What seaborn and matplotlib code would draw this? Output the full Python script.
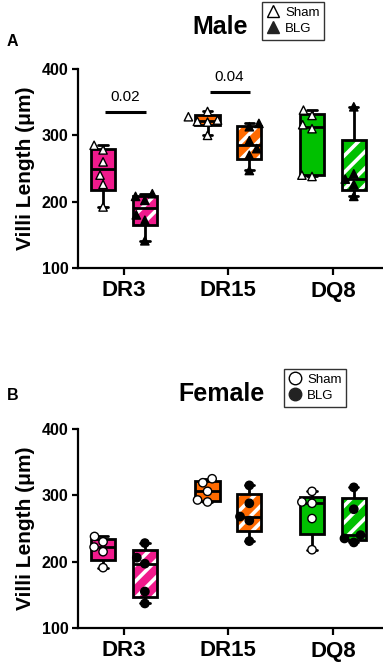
import numpy as np
import pandas as pd
import matplotlib
matplotlib.use("Agg")
import matplotlib.pyplot as plt
import matplotlib.cbook
import matplotlib.colors as mcolors
from matplotlib.lines import Line2D
import seaborn as sns

# ---------------- data ----------------
genotypes = ["DR3", "DR15", "DQ8"]
treatments = ["Sham", "BLG"]
genotype_colors = ["#F01A8C", "#FF6A00", "#00C000"]
yticks = [100, 200, 300, 400]

# Male (panel A)
male_dr3_sham = [192, 226, 240, 260, 278, 285]
male_dr3_blg = [141, 172, 180, 202, 208, 212]
male_dr15_sham = [300, 320, 321, 323, 328, 336]
male_dr15_blg = [247, 270, 280, 292, 313, 318]
male_dq8_sham = [238, 240, 310, 316, 330, 338]
male_dq8_blg = [208, 226, 234, 242, 343]

# Female (panel B)
female_dr3_sham = [191, 215, 222, 230, 238]
female_dr3_blg = [137, 155, 197, 206, 228]
female_dr15_sham = [290, 293, 306, 319, 325]
female_dr15_blg = [231, 262, 268, 288, 315]
female_dq8_sham = [218, 265, 288, 290, 306]
female_dq8_blg = [229, 235, 240, 279, 312]

# significance annotations (panel A): genotype, p-label, bar height
sig_genotypes = ["DR3", "DR15"]
sig_labels = ["0.02", "0.04"]
sig_heights = [335, 365]


def make_df(groups):
    rows = []
    for (g, t), vals in groups.items():
        for v in vals:
            rows.append({"genotype": g, "treatment": t, "length": v})
    return pd.DataFrame(rows)


male_df = make_df({
    ("DR3", "Sham"): male_dr3_sham, ("DR3", "BLG"): male_dr3_blg,
    ("DR15", "Sham"): male_dr15_sham, ("DR15", "BLG"): male_dr15_blg,
    ("DQ8", "Sham"): male_dq8_sham, ("DQ8", "BLG"): male_dq8_blg,
})
female_df = make_df({
    ("DR3", "Sham"): female_dr3_sham, ("DR3", "BLG"): female_dr3_blg,
    ("DR15", "Sham"): female_dr15_sham, ("DR15", "BLG"): female_dr15_blg,
    ("DQ8", "Sham"): female_dq8_sham, ("DQ8", "BLG"): female_dq8_blg,
})

# Prism-style quartiles (n+1 method) for the boxes
_orig_stats = matplotlib.cbook.boxplot_stats


def prism_stats(X, *args, **kwargs):
    out = _orig_stats(X, *args, **kwargs)
    try:
        arr = np.asarray(X, dtype=float)
        groups = [arr] if arr.ndim == 1 else list(arr)
    except ValueError:
        groups = [np.asarray(x, dtype=float) for x in X]
    if len(groups) == len(out):
        for st, vals in zip(out, groups):
            if len(vals):
                q1, med, q3 = np.percentile(vals, [25, 50, 75], method="weibull")
                st["q1"], st["med"], st["q3"] = q1, med, q3
    return out


matplotlib.cbook.boxplot_stats = prism_stats

# ---------------- style ----------------
sns.set_theme(style="ticks")
plt.rcParams["font.family"] = ["Liberation Sans", "DejaVu Sans"]
plt.rcParams["hatch.linewidth"] = 2.6
plt.rcParams["text.color"] = "black"
plt.rcParams["axes.labelcolor"] = "black"
plt.rcParams["xtick.color"] = "black"
plt.rcParams["ytick.color"] = "black"
plt.rcParams["axes.edgecolor"] = "black"

fig = plt.figure(figsize=(3.83, 6.62), dpi=100)
axA = fig.add_axes([78 / 383, 1 - 268 / 662, 304 / 383, 199 / 662])
axB = fig.add_axes([78 / 383, 1 - 628 / 662, 304 / 383, 199 / 662])


def draw_panel(ax, df, marker):
    sns.boxplot(data=df, x="genotype", y="length", hue="treatment",
                order=genotypes, hue_order=treatments, whis=(0, 100),
                width=0.8, gap=0.42, dodge=True, linewidth=2.0,
                linecolor="black", palette=["white", "white"],
                showfliers=False, legend=False, ax=ax, capwidths=0.09)
    for patch in ax.patches:
        verts = patch.get_path().vertices
        cx = (verts[:, 0].min() + verts[:, 0].max()) / 2
        gi = int(round(cx))
        patch.set_facecolor(genotype_colors[gi])
        if cx > gi:
            patch.set_hatch("//")
            patch._hatch_color = mcolors.to_rgba("white")
    sns.swarmplot(data=df, x="genotype", y="length", hue="treatment",
                  order=genotypes, hue_order=treatments, dodge=True,
                  palette={"Sham": "white", "BLG": "black"}, marker=marker,
                  size=6, edgecolor="black", linewidth=1.0, legend=False,
                  ax=ax, zorder=4)
    ax.set_ylim(100, 400)
    ax.set_xlim(-0.44, 2.47)
    ax.set_yticks(yticks)
    ax.set_yticklabels([str(t) for t in yticks], fontsize=11.5,
                       fontweight="bold", color="black")
    ax.set_xticks(range(len(genotypes)))
    ax.set_xticklabels(genotypes, fontsize=16, fontweight="bold", color="black")
    ax.set_xlabel("")
    ax.set_ylabel("Villi Length (μm)", fontsize=15, fontweight="bold",
                  color="black")
    ax.yaxis.set_label_coords(-0.14, 0.5)
    for s in ["top", "right"]:
        ax.spines[s].set_visible(False)
    for s in ["left", "bottom"]:
        ax.spines[s].set_linewidth(1.6)
        ax.spines[s].set_color("black")
    ax.tick_params(axis="y", length=4, width=1.6, pad=3, colors="black")
    ax.tick_params(axis="x", length=5, width=1.6, pad=4, colors="black")


draw_panel(axA, male_df, "^")
draw_panel(axB, female_df, "o")

# significance bars
for g, lab, h in zip(sig_genotypes, sig_labels, sig_heights):
    gi = genotypes.index(g)
    axA.plot([gi - 0.18, gi + 0.21], [h, h], color="black", lw=2.2,
             solid_capstyle="butt")
    axA.text(gi + 0.01, h + 12, lab, ha="center", va="bottom", fontsize=11,
             color="black")

# titles and panel letters
fig.text(220 / 383, 1 - 27 / 662, "Male", ha="center", va="center",
         fontsize=18, fontweight="bold", color="black")
fig.text(221 / 383, 1 - 394 / 662, "Female", ha="center", va="center",
         fontsize=18, fontweight="bold", color="black")
fig.text(12 / 383, 1 - 42 / 662, "A", ha="center", va="center",
         fontsize=11.5, fontweight="bold", color="black")
fig.text(13 / 383, 1 - 396 / 662, "B", ha="center", va="center",
         fontsize=11.5, fontweight="bold", color="black")


def add_legend(marker, anchor):
    handles = [
        Line2D([], [], ls="", marker=marker, markersize=9, mfc="white", mec="black", mew=1),
        Line2D([], [], ls="", marker=marker, markersize=9, mfc="#222222", mec="#222222", mew=1),
    ]
    leg = fig.legend(handles, treatments, loc="upper left", bbox_to_anchor=anchor,
                     frameon=True, fancybox=False, fontsize=9.5, handlelength=1.0,
                     handletextpad=0.4, borderpad=0.35, labelspacing=0.3,
                     borderaxespad=0, labelcolor="black")
    leg.get_frame().set_edgecolor("black")
    leg.get_frame().set_linewidth(1.0)


add_legend("^", (262 / 383, 1 - 2 / 662))
add_legend("o", (284 / 383, 1 - 369 / 662))

fig.savefig("out.png", dpi=100)
